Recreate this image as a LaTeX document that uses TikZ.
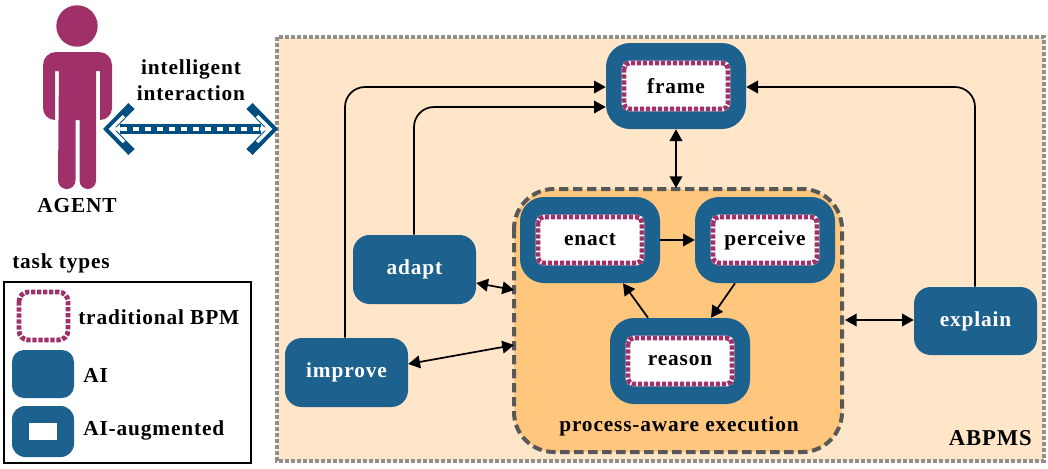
\documentclass[tikz,border=0pt]{standalone}
\usepackage{fontspec}
\setmainfont[LetterSpace=4]{Liberation Serif}
\usetikzlibrary{arrows.meta}
\definecolor{bluefill}{HTML}{1D618F}
\definecolor{darkblue}{HTML}{004F80}
\definecolor{plum}{HTML}{A03069}
\definecolor{outerbg}{HTML}{FFE6C9}
\definecolor{innerbg}{HTML}{FFC77D}
\definecolor{boxgrey}{HTML}{8F8F8F}
\definecolor{dashgrey}{HTML}{585858}
\tikzset{
  x=0.75pt,y=-0.75pt,
  txt/.style={font=\bfseries\fontsize{16}{19.5}\selectfont,text=black,inner sep=0pt},
  ai/.style={draw=none,fill=bluefill,rounded corners=12.5pt,inner sep=0pt},
  aug/.style={draw=none,fill=bluefill,rounded corners=18pt,inner sep=0pt},
  tradback/.style={draw=white,fill=white,line width=3.6pt,rounded corners=4pt},
  trad/.style={draw=plum,line width=3.6pt,dash pattern=on 3.2pt off 1.3pt,rounded corners=4pt},
  conn/.style={line width=1.3pt,-{Triangle[length=8.8pt,width=9.5pt]},rounded corners=15pt},
  conns/.style={line width=1.3pt,{Triangle[length=8.8pt,width=9.5pt]}-{Triangle[length=8.8pt,width=9.5pt]}},
  aitext/.style={txt,text=white},
}
\newcommand{\augtask}[6]{% name x1 y1 x2 y2 label
  \path[aug] (#2,#3) rectangle (#4,#5);
  \path[tradback] ({#2+18},{#3+20}) rectangle ({#4-18},{#5-20});
  \path[trad] ({#2+18},{#3+20}) rectangle ({#4-18},{#5-20});
  \node[txt,minimum width={(#4-#2)*0.75pt},minimum height={(#5-#3)*0.75pt}] (#1) at ({(#2+#4)/2},{(#3+#5)/2}) {#6};
}
\newcommand{\aitask}[6]{%
  \path[ai] (#2,#3) rectangle (#4,#5);
  \node[aitext,minimum width={(#4-#2)*0.75pt},minimum height={(#5-#3)*0.75pt}] (#1) at ({(#2+#4)/2},{(#3+#5)/2}) {#6};
}
\begin{document}
\begin{tikzpicture}
\useasboundingbox (0,0) rectangle (1048,468);
\fill[white] (0,0) rectangle (1048,468);
% ABPMS
\draw[draw=boxgrey,fill=outerbg,line width=3pt,dash pattern=on 3pt off 1.5pt] (277,37) rectangle (1044,461);
\node[txt,anchor=east,font=\bfseries\fontsize{17}{20}\selectfont] (abpms) at (1032,438) {ABPMS};
% process box
\draw[draw=dashgrey,fill=innerbg,line width=3pt,dash pattern=on 7pt off 3.5pt,rounded corners=30pt] (514,189) rectangle (842,452);
\node[txt] (pae) at (679,426) {process-aware execution};
% tasks
\augtask{frame}{606}{43}{746}{129}{frame}
\augtask{enact}{520}{197}{660}{283}{enact}
\augtask{perceive}{695}{197}{835}{283}{perceive}
\augtask{reason}{610}{318}{750}{404}{reason}
\aitask{adapt}{353}{235}{476}{304}{adapt}
\aitask{improve}{285}{338}{408}{407}{improve}
\aitask{explain}{914}{287}{1037}{355}{explain}
% connectors
\coordinate (pa) at (514,290);
\coordinate (pi) at (514,345);
\coordinate (pe) at (845,320);
\coordinate (ptop) at (676,188);
\draw[conn] (improve.north -| 345,338) |- (frame.west |- 0,87);
\draw[conn] (adapt.north -| 414,235) |- (frame.west |- 0,107);
\draw[conn] (explain.north -| 975,287) |- (frame.east |- 0,87);
\draw[conns] (frame.south -| ptop) -- (ptop);
\draw[conn] (enact.east) -- (perceive.west);
\draw[conn] (perceive.south -| 735,283) -- (reason.north -| 711,318);
\draw[conn] (reason.north -| 648,318) -- (enact.south -| 623,283);
\draw[conns] (explain.west |- pe) -- (pe);
\draw[conns] (adapt.east |- 0,283) -- (pa);
\draw[conns] (improve.east |- 0,364) -- (pi);
% agent
\fill[plum] (77,26) circle (20.7);
\fill[plum] (43,65) arc[start angle=180,end angle=270,radius=13] -- (99,52) arc[start angle=270,end angle=360,radius=13]
  -- (112,108) arc[start angle=0,end angle=90,radius=12] -- (100,71) -- (96,71)
  -- (96,180.7) arc[start angle=0,end angle=180,radius=8.25] -- (79.5,120) -- (75.5,120)
  -- (75.5,180.3) arc[start angle=0,end angle=180,radius=8.75] -- (58.5,120) -- (59,71) -- (55,71)
  -- (55,120) arc[start angle=90,end angle=180,radius=12] -- cycle;
\node[txt,font=\bfseries\fontsize{16}{19}\selectfont] (agent) at (77,206) {AGENT};
\node[txt,align=center] (ii) at (191,80) {intelligent\\interaction};
% double arrow
\coordinate (al) at (104,129);
\coordinate (ar) at (277,129);
\fill[darkblue] (120,124) rectangle (261,134);
\draw[darkblue,line width=6.4pt,miter limit=10] (131.5,106) -- (109,129) -- (131.5,152);
\draw[darkblue,line width=6.4pt,miter limit=10] (249.5,106) -- (272,129) -- (249.5,152);
\draw[white,line width=2.4pt] (124,116) -- (111,129) -- (124,142) (111,129) -- (121,129);
\draw[white,line width=2.4pt] (257,116) -- (270,129) -- (257,142) (270,129) -- (260,129);
\draw[white,line width=3.2pt,dash pattern=on 4.5pt off 4.5pt] (121,129) -- (260,129);
% legend
\node[txt,anchor=west] (tt) at (12,263) {task types};
\draw[black,line width=1.5pt] (4,282) rectangle (251,463);
\path[tradback,rounded corners=7pt] (19,292) rectangle (68,340);
\path[trad,rounded corners=7pt] (19,292) rectangle (68,340);
\path[ai,rounded corners=9pt] (12,350) rectangle (74,398);
\path[ai,rounded corners=10pt] (12,406) rectangle (74,457);
\fill[white] (29,423) rectangle (57,440);
\node[txt,anchor=west] (l1) at (78,317) {traditional BPM};
\node[txt,anchor=west] (l2) at (83,375) {AI};
\node[txt,anchor=west] (l3) at (83,430) {AI-augmented};
\end{tikzpicture}
\end{document}
